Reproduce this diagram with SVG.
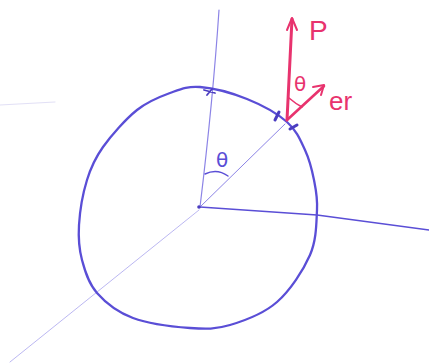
<svg xmlns="http://www.w3.org/2000/svg" width="429" height="363" viewBox="0 0 429 363">
<style>
.blue{stroke:#5a4ed6;fill:none;stroke-linecap:round;stroke-linejoin:round}
.dark{stroke:#4a3cc0;fill:none;stroke-linecap:round}
.faint{stroke:#8c84e6;fill:none;stroke-linecap:round}
.red{stroke:#e8336e;fill:none;stroke-linecap:round;stroke-linejoin:round}
.tb{fill:#5a4ed6;font-family:"DejaVu Sans",sans-serif}
.tr{fill:#e8336e;font-family:"Liberation Sans",sans-serif}
.trg{fill:#e8336e;font-family:"DejaVu Sans",sans-serif}
</style>
<rect width="429" height="363" fill="#ffffff"/>
<g id="axes">
<path class="faint" stroke-width="1.2" d="M219,10 Q213,100 200,207"/>
<path class="blue" stroke-width="1.5" d="M200,207 L317,215 L429,230"/>
<path class="faint" stroke-width="0.8" style="stroke:#aaa4ee" d="M199,210 L10,362"/>
<path class="faint" stroke-width="1" style="stroke:#e2e0f6" d="M0,105 L55,102"/>
<path class="faint" stroke-width="1" d="M200,207 L285,124"/>
<circle cx="199" cy="207" r="1.8" fill="#4a3cc0"/>
</g>
<g id="circle">
<path class="blue" stroke-width="2.3" d="M200,87 C212.8,88 232.5,93.2 247,99 C261.5,104.8 277.3,113.5 287,122 C296.7,130.5 300.5,140.3 305,150 C309.5,159.7 312,170 314,180 C316,190 317.7,197.5 317,210 C316.3,222.5 316.7,239.7 310,255 C303.3,270.3 290.3,290.3 277,302 C263.7,313.7 244.5,320.7 230,325 C215.5,329.3 206.2,329.2 190,328 C173.8,326.8 148.5,323.8 133,318 C117.5,312.2 105.5,302.7 97,293 C88.5,283.3 85,271.3 82,260 C79,248.7 78.2,238.3 79,225 C79.8,211.7 83,193 87,180 C91,167 94.7,158.7 103,147 C111.3,135.3 125.8,119 137,110 C148.2,101 159.5,96.8 170,93 C180.5,89.2 187.2,86 200,87 Z"/>
<path class="dark" stroke-width="1.8" d="M204,90 L215,93 M207,95 L212,89"/>
<path class="dark" stroke-width="3" d="M275,120 L279,112 M290,129 L297,125"/>
</g>
<g id="theta-center">
<path class="blue" stroke-width="1.4" d="M205,174 Q217,168 228,176"/>
<text class="tb" x="222" y="167" font-size="20" text-anchor="middle">θ</text>
</g>
<g id="vectors">
<path class="red" stroke-width="3" d="M287,120 L292,19"/>
<path class="red" stroke-width="2" d="M287,30 L292,18 L297,30"/>
<path class="red" stroke-width="2.6" d="M287,120 L324,86"/>
<path class="red" stroke-width="2" d="M313,87 L324,85 L321,95"/>
<path class="red" stroke-width="1.6" d="M289,98 Q296,104 302,107"/>
<text class="tr" x="309" y="40" font-size="28">P</text>
<text class="tr" x="329" y="110" font-size="26">er</text>
<text class="trg" x="300" y="91" font-size="20" text-anchor="middle">θ</text>
</g>
</svg>
